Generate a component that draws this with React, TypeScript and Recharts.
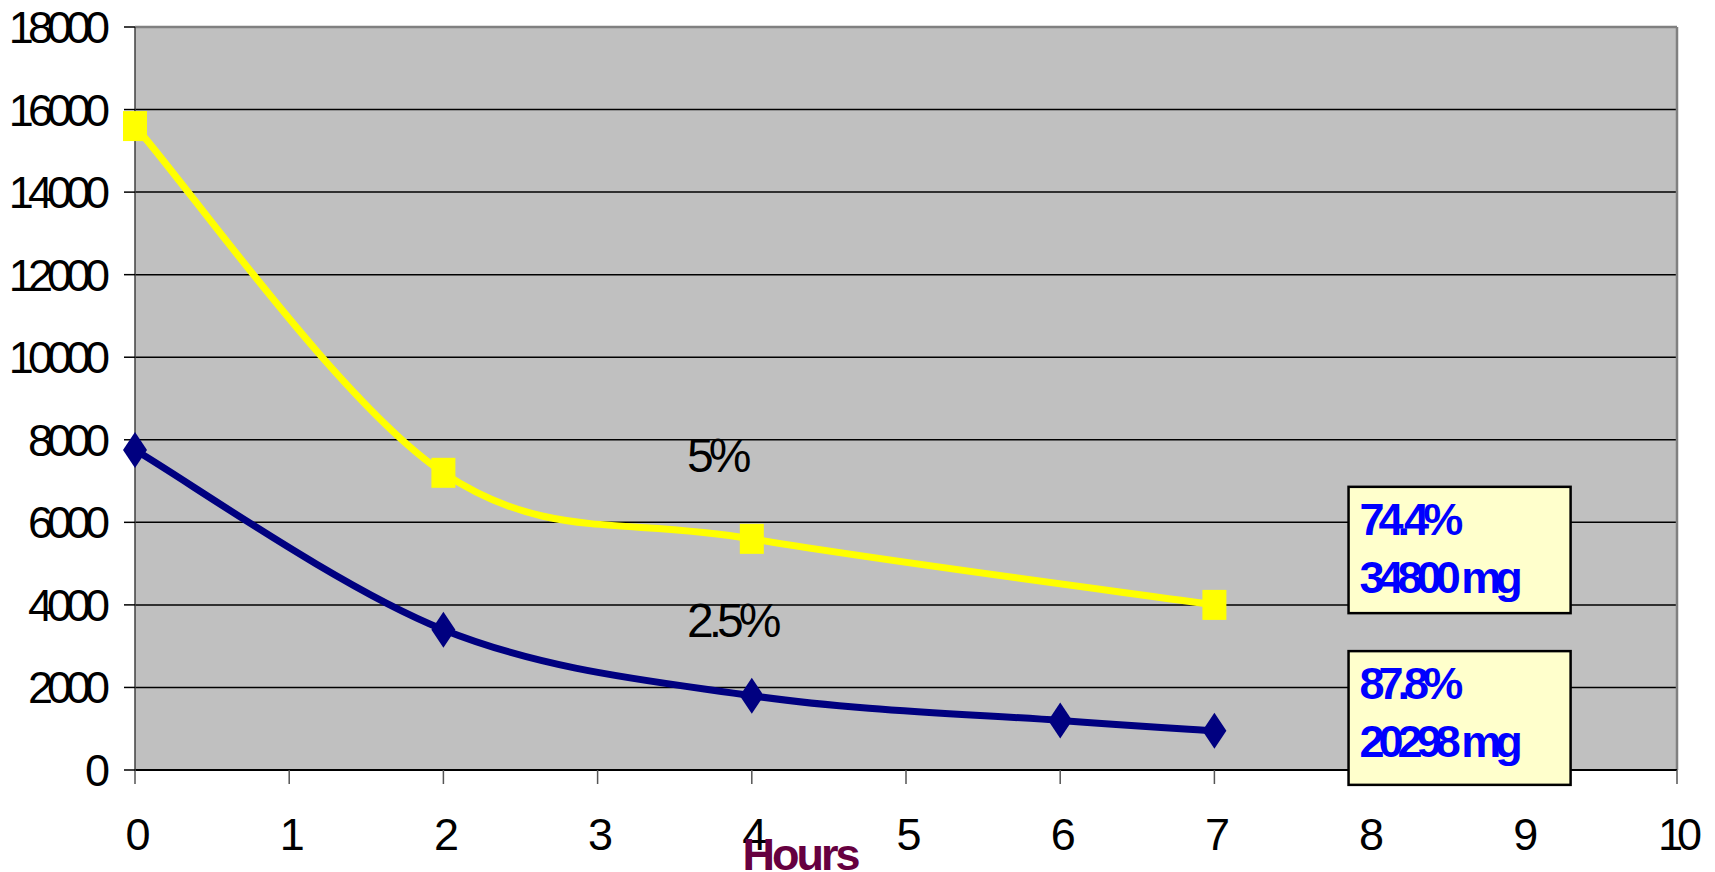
import {
  LineChart,
  Line,
  XAxis,
  YAxis,
  CartesianGrid,
  ReferenceArea,
  ReferenceDot,
  ReferenceLine,
} from 'recharts';

// hours after start / measured level, one pair of arrays per concentration
const hours5 = [0, 2, 4, 7];
const level5 = [15600, 7200, 5600, 4000];
const hours25 = [0, 2, 4, 6, 7];
const level25 = [7750, 3400, 1800, 1200, 950];

const xTicks = [0, 1, 2, 3, 4, 5, 6, 7, 8, 9, 10];
const yTicks = [0, 2000, 4000, 6000, 8000, 10000, 12000, 14000, 16000, 18000];

const series5 = hours5.map((h, i) => ({ h, v: level5[i] }));
const series25 = hours25.map((h, i) => ({ h, v: level25[i] }));

const FONT = '"Liberation Sans", Arial, sans-serif';

// Catmull-Rom style smoothing, like spreadsheet "smoothed line"
const smoothCurve = (context: any) => {
  let pts: number[][] = [];
  return {
    areaStart() {},
    areaEnd() {},
    lineStart() {
      pts = [];
    },
    point(x: number, y: number) {
      pts.push([+x, +y]);
    },
    lineEnd() {
      if (!pts.length) return;
      context.moveTo(pts[0][0], pts[0][1]);
      for (let i = 0; i < pts.length - 1; i++) {
        const p0 = pts[Math.max(i - 1, 0)];
        const p1 = pts[i];
        const p2 = pts[i + 1];
        const p3 = pts[Math.min(i + 2, pts.length - 1)];
        context.bezierCurveTo(
          p1[0] + (p2[0] - p0[0]) / 6,
          p1[1] + (p2[1] - p0[1]) / 6,
          p2[0] - (p3[0] - p1[0]) / 6,
          p2[1] - (p3[1] - p1[1]) / 6,
          p2[0],
          p2[1]
        );
      }
    },
  };
};

const SquareDot = (props: any) => {
  const { cx, cy, key } = props;
  return <rect key={key} x={cx - 12} y={cy - 15} width={24} height={30} fill="#FFFF00" />;
};

const DiamondDot = (props: any) => {
  const { cx, cy, key } = props;
  return (
    <polygon
      key={key}
      points={`${cx},${cy - 18} ${cx + 12},${cy} ${cx},${cy + 18} ${cx - 12},${cy}`}
      fill="#000080"
    />
  );
};

const seriesLabel = (text: string) => (p: any) => (
  <text x={p.cx} y={p.cy} fontFamily={FONT} fontSize={48} letterSpacing={-5} fill="#000">
    {text}
  </text>
);

const noteBox = (line1: string, line2: string) => (p: any) => (
  <g>
    <rect x={p.x} y={p.y} width={p.width} height={p.height} fill="#FFFFCC" stroke="#000" strokeWidth={2.5} />
    <text x={p.x + 11} y={p.y + 48} fontFamily={FONT} fontSize={45} fontWeight="bold" letterSpacing={-6} fill="#0000FF">
      {line1}
    </text>
    <text x={p.x + 11} y={p.y + 106} fontFamily={FONT} fontSize={45} fontWeight="bold" letterSpacing={-6} fill="#0000FF">
      {line2}
    </text>
  </g>
);

const tickStyle = { fontFamily: FONT, fontSize: 45, fill: '#000', letterSpacing: -6 };

export default function App() {
  return (
    <div style={{ position: 'absolute', left: 0, top: 0, width: 1715, height: 872, background: '#fff' }}>
      <LineChart width={1715} height={872} margin={{ top: 27, right: 38, bottom: 0, left: 0 }}>
        <CartesianGrid vertical={false} stroke="#000" strokeWidth={1.5} fill="#C0C0C0" />
        <XAxis
          type="number"
          dataKey="h"
          domain={[0, 10]}
          ticks={xTicks}
          interval={0}
          height={102}
          tickSize={14}
          tickMargin={34}
          tick={tickStyle}
          axisLine={{ stroke: '#000', strokeWidth: 2 }}
          tickLine={{ stroke: '#555', strokeWidth: 1.5 }}
          label={{
            value: 'Hours',
            position: 'insideBottom',
            offset: 2,
            dx: -106,
            fill: '#660040',
            fontFamily: FONT,
            fontSize: 45,
            fontWeight: 'bold',
            letterSpacing: -3,
          }}
        />
        <YAxis
          type="number"
          domain={[0, 18000]}
          ticks={yTicks}
          interval={0}
          width={135}
          tickSize={11}
          tickMargin={20}
          tick={tickStyle}
          axisLine={{ stroke: '#404040', strokeWidth: 1.5 }}
          tickLine={{ stroke: '#000', strokeWidth: 1.5 }}
        />
        <ReferenceLine y={18000} stroke="#808080" strokeWidth={2.5} />
        <ReferenceLine x={10} stroke="#808080" strokeWidth={2.5} />
        <Line
          data={series5}
          dataKey="v"
          type={smoothCurve as any}
          stroke="#FFFF00"
          strokeWidth={7}
          dot={SquareDot}
          activeDot={false}
          isAnimationActive={false}
        />
        <Line
          data={series25}
          dataKey="v"
          type={smoothCurve as any}
          stroke="#000080"
          strokeWidth={7}
          dot={DiamondDot}
          activeDot={false}
          isAnimationActive={false}
        />
        <ReferenceDot x={3.58} y={7220} r={0} shape={seriesLabel('5%')} ifOverflow="visible" />
        <ReferenceDot x={3.58} y={3220} r={0} shape={seriesLabel('2.5%')} ifOverflow="visible" />
        <ReferenceArea
          x1={7.87}
          x2={9.31}
          y1={3800}
          y2={6860}
          ifOverflow="visible"
          shape={noteBox('74.4%', '34800 mg')}
          {...({ zIndex: 800 } as any)}
        />
        <ReferenceArea
          x1={7.87}
          x2={9.31}
          y1={-360}
          y2={2880}
          ifOverflow="visible"
          shape={noteBox('87.8%', '20298 mg')}
          {...({ zIndex: 800 } as any)}
        />
      </LineChart>
    </div>
  );
}
